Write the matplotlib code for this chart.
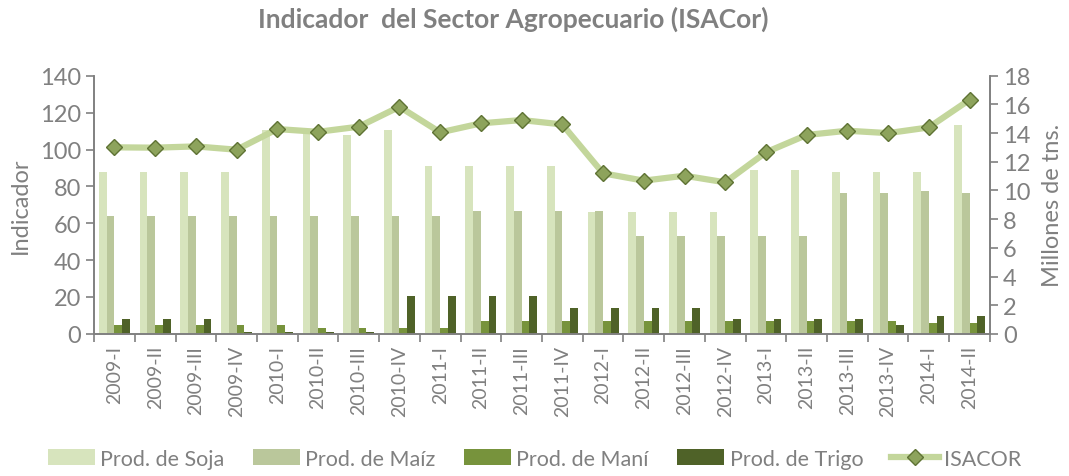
import matplotlib
matplotlib.use("Agg")
import matplotlib.pyplot as plt
import numpy as np

plt.rcParams['font.family'] = ['Lato', 'DejaVu Sans']

quarters = ['2009-I', '2009-II', '2009-III', '2009-IV',
            '2010-I', '2010-II', '2010-III', '2010-IV',
            '2011-I', '2011-II', '2011-III', '2011-IV',
            '2012-I', '2012-II', '2012-III', '2012-IV',
            '2013-I', '2013-II', '2013-III', '2013-IV',
            '2014-I', '2014-II']

# millones de tns (eje derecho)
soja = [11.3, 11.3, 11.3, 11.3, 14.2, 14.3, 13.9, 14.2, 11.7, 11.7, 11.7, 11.7,
        8.5, 8.5, 8.5, 8.5, 11.45, 11.45, 11.3, 11.3, 11.3, 14.55]
maiz = [8.22, 8.22, 8.22, 8.22, 8.22, 8.22, 8.22, 8.22, 8.22, 8.6, 8.6, 8.6,
        8.6, 6.85, 6.85, 6.85, 6.85, 6.85, 9.83, 9.83, 9.97, 9.83]
mani = [0.65, 0.65, 0.65, 0.65, 0.65, 0.4, 0.4, 0.4, 0.4, 0.88, 0.88, 0.88,
        0.88, 0.88, 0.88, 0.88, 0.88, 0.88, 0.88, 0.88, 0.75, 0.75]
trigo = [1.05, 1.05, 1.05, 0.16, 0.16, 0.16, 0.12, 2.62, 2.62, 2.62, 2.62, 1.79,
         1.79, 1.79, 1.79, 1.05, 1.05, 1.05, 1.05, 0.65, 1.28, 1.28]

# indicador (eje izquierdo)
isacor = [101.2, 101.0, 101.7, 99.9, 111.1, 109.6, 112.4, 123.2, 109.3, 114.2, 116.0, 113.6,
          87.1, 83.1, 85.8, 82.2, 98.5, 107.9, 110.2, 108.9, 112.0, 127.0]

gray = '#808080'
colors = ['#d7e4bd', '#bac79b', '#77933c', '#4f6228']

fig = plt.figure(figsize=(10.69, 4.77), dpi=100)
ax = fig.add_axes([0.088, 0.298, 0.838, 0.541])
ax2 = ax.twinx()

x = np.arange(len(quarters))
w = 0.19
for i, (vals, name) in enumerate(zip([soja, maiz, mani, trigo],
                                     ['Prod. de Soja', 'Prod. de Maíz', 'Prod. de Maní', 'Prod. de Trigo'])):
    ax2.bar(x + (i - 1.5) * w, vals, width=w, color=colors[i], label=name, zorder=2)

ax.plot(x, isacor, color='#c3d69b', lw=4.5, marker='D', markersize=8.5,
        markerfacecolor='#8da35c', markeredgecolor='#5f7334', markeredgewidth=1.0,
        label='ISACOR', zorder=5)
ax.set_zorder(ax2.get_zorder() + 1)
ax.patch.set_visible(False)

ax.set_xlim(-0.5, len(quarters) - 0.5)
ax.set_ylim(0, 140)
ax2.set_ylim(0, 18)
ax.set_yticks(range(0, 141, 20))
ax2.set_yticks(range(0, 19, 2))
ax.set_xticks(x)
ax.set_xticklabels(quarters, rotation=90)
ax.set_xticks(np.arange(-0.5, len(quarters)), minor=True)
ax.tick_params(axis='x', which='major', length=0, pad=8)
ax.tick_params(axis='x', which='minor', length=6, color=gray, width=1.2)

for a in (ax, ax2):
    for s in a.spines.values():
        s.set_color(gray)
        s.set_linewidth(1.2)
    a.spines['top'].set_visible(False)
    a.tick_params(axis='y', colors=gray, labelsize=17, length=6, width=1.2)
    a.tick_params(axis='x', colors=gray, labelsize=14)

ax.set_ylabel('Indicador', color=gray, fontsize=17, labelpad=6)
ax2.set_ylabel('Millones de tns.', color=gray, fontsize=17, labelpad=8)

fig.suptitle('Indicador  del Sector Agropecuario (ISACor)', x=0.48, y=0.985,
             color=gray, fontsize=19, fontweight='bold')

h1, l1 = ax2.get_legend_handles_labels()
h2, l2 = ax.get_legend_handles_labels()
fig.legend(h1 + h2, l1 + l2, loc='lower center', ncol=5, frameon=False,
           bbox_to_anchor=(0.5, -0.025), fontsize=15.5, labelcolor=gray,
           handlelength=2.2, handleheight=0.8, columnspacing=1.3, handletextpad=0.25)

fig.savefig('out.png', dpi=100)
